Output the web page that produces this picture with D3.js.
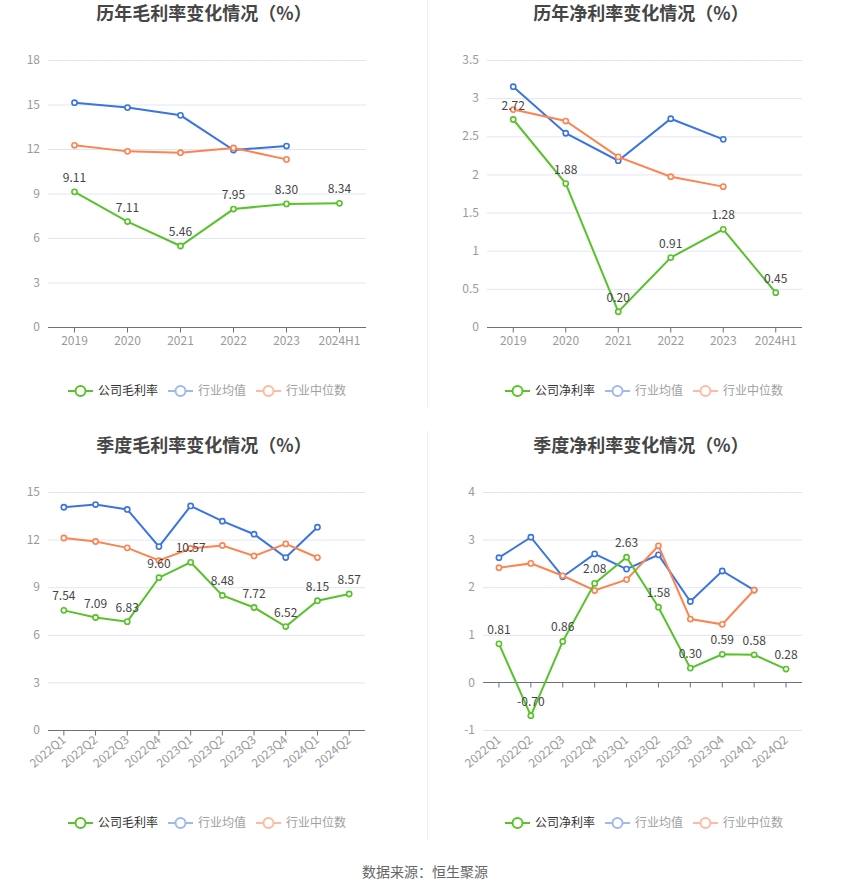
<!DOCTYPE html>
<html>
<head>
<meta charset="utf-8">
<script src="https://cdn.jsdelivr.net/npm/d3@7/dist/d3.min.js"></script>
<style>
  html, body { margin: 0; padding: 0; background: #fff; }
  svg { display: block; font-family: "Noto Sans CJK SC", "Noto Sans", sans-serif; }
</style>
</head>
<body>
<svg id="chart" width="850" height="891"></svg>
<script>
// 年度数据
const yearCats = ['2019', '2020', '2021', '2022', '2023', '2024H1'];
const yearGross = [9.11, 7.11, 5.46, 7.95, 8.30, 8.34];
const yearGrossAvg = [15.12, 14.79, 14.27, 11.93, 12.20];
const yearGrossMid = [12.25, 11.84, 11.75, 12.07, 11.30];
const yearNet = [2.72, 1.88, 0.20, 0.91, 1.28, 0.45];
const yearNetAvg = [3.15, 2.54, 2.18, 2.73, 2.46];
const yearNetMid = [2.85, 2.70, 2.23, 1.97, 1.84];

// 季度数据
const quarterCats = ['2022Q1', '2022Q2', '2022Q3', '2022Q4', '2023Q1', '2023Q2', '2023Q3', '2023Q4', '2024Q1', '2024Q2'];
const quarterGross = [7.54, 7.09, 6.83, 9.60, 10.57, 8.48, 7.72, 6.52, 8.15, 8.57];
const quarterGrossAvg = [14.04, 14.21, 13.90, 11.56, 14.12, 13.16, 12.34, 10.87, 12.78];
const quarterGrossMid = [12.10, 11.88, 11.48, 10.68, 11.44, 11.63, 10.97, 11.73, 10.87];
const quarterNet = [0.81, -0.70, 0.86, 2.08, 2.63, 1.58, 0.30, 0.59, 0.58, 0.28];
const quarterNetAvg = [2.62, 3.05, 2.22, 2.70, 2.38, 2.68, 1.70, 2.34, 1.94];
const quarterNetMid = [2.41, 2.50, 2.24, 1.93, 2.16, 2.87, 1.33, 1.22, 1.94];

// 坐标轴刻度
const yearGrossTicks = [0, 3, 6, 9, 12, 15, 18];
const yearNetTicks = [0, 0.5, 1, 1.5, 2, 2.5, 3, 3.5];
const quarterGrossTicks = [0, 3, 6, 9, 12, 15];
const quarterNetTicks = [-1, 0, 1, 2, 3, 4];

const GREEN = '#58c22b';
const BLUE = '#3a74e2';
const ORANGE = '#fd8350';

const svg = d3.select('#chart');

// 分隔线
svg.append('line').attr('x1', 427.5).attr('x2', 427.5).attr('y1', 0).attr('y2', 407)
    .attr('stroke', '#eeeeee').attr('stroke-width', 1);
svg.append('line').attr('x1', 427.5).attr('x2', 427.5).attr('y1', 431).attr('y2', 840)
    .attr('stroke', '#eeeeee').attr('stroke-width', 1);

// 绘制单个折线图
function drawPanel(opt) {
    const g = svg.append('g');
    const x = d3.scaleBand().domain(opt.cats).range([opt.left, opt.right]);
    const y = d3.scaleLinear().domain(d3.extent(opt.ticks)).range([opt.bottom, opt.top]);
    const cx = d => x(d) + x.bandwidth() / 2;

    // 标题
    g.append('text')
        .attr('x', opt.titleX).attr('y', opt.titleY)
        .attr('text-anchor', 'middle')
        .attr('font-size', '18px').attr('font-weight', 'bold')
        .attr('fill', '#464646')
        .text(opt.title);

    // 网格线和y轴标签
    opt.ticks.forEach(t => {
        if (t !== 0) {
            g.append('line')
                .attr('x1', opt.left).attr('x2', opt.right)
                .attr('y1', y(t) + 0.5).attr('y2', y(t) + 0.5)
                .attr('stroke', '#e0e6f1').attr('stroke-width', 1);
        }
        g.append('text')
            .attr('x', opt.left - 8).attr('y', y(t))
            .attr('dy', '0.35em')
            .attr('text-anchor', 'end')
            .attr('font-size', '12px').attr('fill', '#9a9a9a')
            .text(t);
    });

    // x轴
    const zeroY = Math.round(y(0)) + 0.5;
    g.append('line')
        .attr('x1', opt.left).attr('x2', opt.right)
        .attr('y1', zeroY).attr('y2', zeroY)
        .attr('stroke', '#6e7079').attr('stroke-width', 1);
    opt.cats.forEach(c => {
        g.append('line')
            .attr('x1', cx(c)).attr('x2', cx(c))
            .attr('y1', zeroY).attr('y2', zeroY + 5)
            .attr('stroke', '#6e7079').attr('stroke-width', 1);
        const lbl = g.append('text')
            .attr('font-size', '12px').attr('fill', '#9a9a9a')
            .text(c);
        if (opt.rotate) {
            lbl.attr('transform', `translate(${cx(c)}, ${opt.bottom + 8}) rotate(-40)`)
                .attr('text-anchor', 'end').attr('dy', '0.35em');
        } else {
            lbl.attr('x', cx(c)).attr('y', opt.bottom + 8)
                .attr('text-anchor', 'middle').attr('dy', '0.85em');
        }
    });

    // 折线
    const line = d3.line().x((d, i) => cx(opt.cats[i])).y(d => y(d));
    const series = [
        { data: opt.avg, color: BLUE },
        { data: opt.mid, color: ORANGE },
        { data: opt.company, color: GREEN, labels: true }
    ];
    series.forEach(s => {
        g.append('path')
            .attr('d', line(s.data))
            .attr('fill', 'none')
            .attr('stroke', s.color)
            .attr('stroke-width', 2);
        g.selectAll(null)
            .data(s.data)
            .enter()
            .append('circle')
            .attr('cx', (d, i) => cx(opt.cats[i]))
            .attr('cy', d => y(d))
            .attr('r', 2.6)
            .attr('fill', '#fff')
            .attr('stroke', s.color)
            .attr('stroke-width', 1.6);
    });

    // 数据标签
    g.selectAll(null)
        .data(opt.company)
        .enter()
        .append('text')
        .attr('x', (d, i) => cx(opt.cats[i]))
        .attr('y', d => y(d) - 10)
        .attr('text-anchor', 'middle')
        .attr('font-size', '12px')
        .attr('fill', '#454545')
        .text(d => d.toFixed(2));

    // 图例
    const items = [
        { name: opt.legendName, color: GREEN, text: '#333', w: 60 },
        { name: '行业均值', color: '#9db9ee', text: '#a0a0a0', w: 48 },
        { name: '行业中位数', color: '#fcbca2', text: '#a0a0a0', w: 60 }
    ];
    const total = d3.sum(items, d => 25 + 5 + d.w) + 10 * (items.length - 1);
    let lx = opt.legendX - total / 2;
    items.forEach(it => {
        const lg = g.append('g').attr('transform', `translate(${lx}, ${opt.legendY})`);
        lg.append('line').attr('x1', 0).attr('x2', 25).attr('y1', 0).attr('y2', 0)
            .attr('stroke', it.color).attr('stroke-width', 2);
        lg.append('circle').attr('cx', 12.5).attr('cy', 0).attr('r', 5)
            .attr('fill', '#fff').attr('stroke', it.color).attr('stroke-width', 2);
        lg.append('text').attr('x', 30).attr('y', 0).attr('dy', '0.35em')
            .attr('font-size', '12px').attr('fill', it.text)
            .text(it.name);
        lx += 25 + 5 + it.w + 10;
    });
}

drawPanel({
    title: '历年毛利率变化情况（%）', titleX: 204, titleY: 20,
    cats: yearCats, company: yearGross, avg: yearGrossAvg, mid: yearGrossMid,
    ticks: yearGrossTicks, left: 48, right: 366, top: 60, bottom: 327,
    legendName: '公司毛利率', legendX: 207, legendY: 391
});
drawPanel({
    title: '历年净利率变化情况（%）', titleX: 641, titleY: 20,
    cats: yearCats, company: yearNet, avg: yearNetAvg, mid: yearNetMid,
    ticks: yearNetTicks, left: 487, right: 802, top: 60, bottom: 327,
    legendName: '公司净利率', legendX: 644, legendY: 391
});
drawPanel({
    title: '季度毛利率变化情况（%）', titleX: 204, titleY: 452,
    cats: quarterCats, company: quarterGross, avg: quarterGrossAvg, mid: quarterGrossMid,
    ticks: quarterGrossTicks, left: 48, right: 365, top: 492, bottom: 730,
    legendName: '公司毛利率', legendX: 207, legendY: 823, rotate: true
});
drawPanel({
    title: '季度净利率变化情况（%）', titleX: 641, titleY: 452,
    cats: quarterCats, company: quarterNet, avg: quarterNetAvg, mid: quarterNetMid,
    ticks: quarterNetTicks, left: 483, right: 802, top: 492, bottom: 730,
    legendName: '公司净利率', legendX: 644, legendY: 823, rotate: true
});

// 数据来源
svg.append('text')
    .attr('x', 425).attr('y', 877)
    .attr('text-anchor', 'middle')
    .attr('font-size', '14px').attr('fill', '#666')
    .text('数据来源：恒生聚源');
</script>
</body>
</html>
